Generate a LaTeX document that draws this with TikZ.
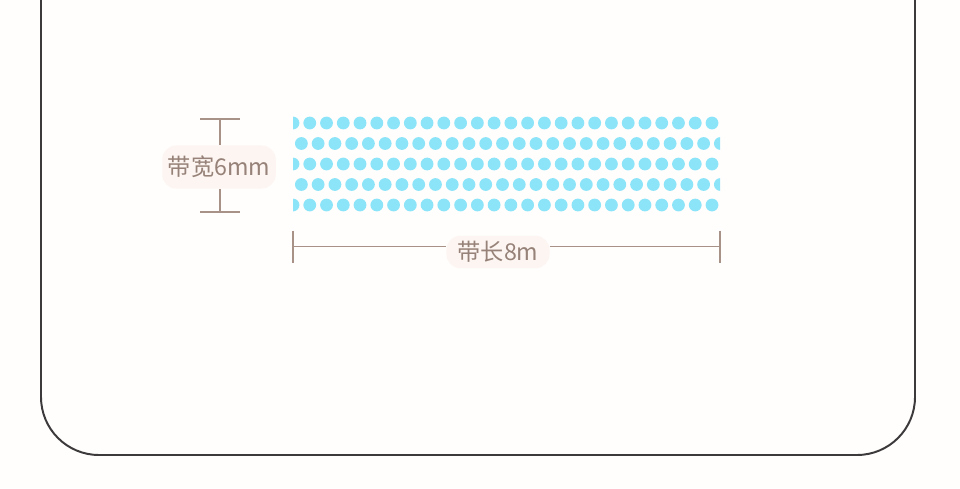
\documentclass[tikz,border=0pt]{standalone}
\usepackage{fontspec}
\setmainfont{Noto Sans CJK SC}
\definecolor{dotblue}{RGB}{140,228,248}
\definecolor{dimline}{RGB}{168,146,136}
\definecolor{dimtext}{RGB}{150,130,120}
\definecolor{glow}{RGB}{253,245,241}
\definecolor{paper}{RGB}{255,254,253}
\definecolor{framegray}{RGB}{60,58,58}

\begin{document}
\begin{tikzpicture}[x=0.025cm, y=-0.025cm,
	dim/.style={draw=dimline, line width=0.8pt},
	dimlabel/.style={fill=glow, rounded corners=10pt, text=dimtext, inner sep=4pt, font=\fontsize{16.5}{20}\selectfont},
	dot/.style={fill=dotblue}]
	\useasboundingbox[fill=paper] (0,0) rectangle (960,488);
	% outer frame
	\draw [framegray, line width=1.4pt, rounded corners=1.45cm] (41,-5) -- (41,455) -- (915,455) -- (915,-5);
	% dotted tape
	\begin{scope}
	\clip (293,113) rectangle (720,215);
	\foreach \r in {0,...,4}
		\foreach \c in {0,...,26}
			\fill [dot] ({293+\c*16.76+mod(\r,2)*8.38}, {123+\r*20.5}) circle (0.16cm);
	\end{scope}
	% width of the tape
	\node [dimlabel, minimum height=1.075cm] (wlabel) at (219,167) {带宽6mm};
	\coordinate (wtop) at (220,119);
	\coordinate (wbot) at (220,212);
	\draw [dim] ([xshift=-0.5cm]wtop) -- ([xshift=0.5cm]wtop);
	\draw [dim] (wtop) -- (wtop |- wlabel.north);
	\draw [dim] (wbot |- wlabel.south) -- (wbot);
	\draw [dim] ([xshift=-0.5cm]wbot) -- ([xshift=0.5cm]wbot);
	% length of the tape
	\node [dimlabel, minimum width=2.575cm] (llabel) at (498,252) {带长8m};
	\coordinate (lleft) at (293,246.5);
	\coordinate (lright) at (720,246.5);
	\draw [dim] ([yshift=0.4cm]lleft) -- ([yshift=-0.4cm]lleft);
	\draw [dim] (lleft) -- (lleft -| llabel.west);
	\draw [dim] (llabel.east |- lright) -- (lright);
	\draw [dim] ([yshift=0.4cm]lright) -- ([yshift=-0.4cm]lright);
\end{tikzpicture}
\end{document}
